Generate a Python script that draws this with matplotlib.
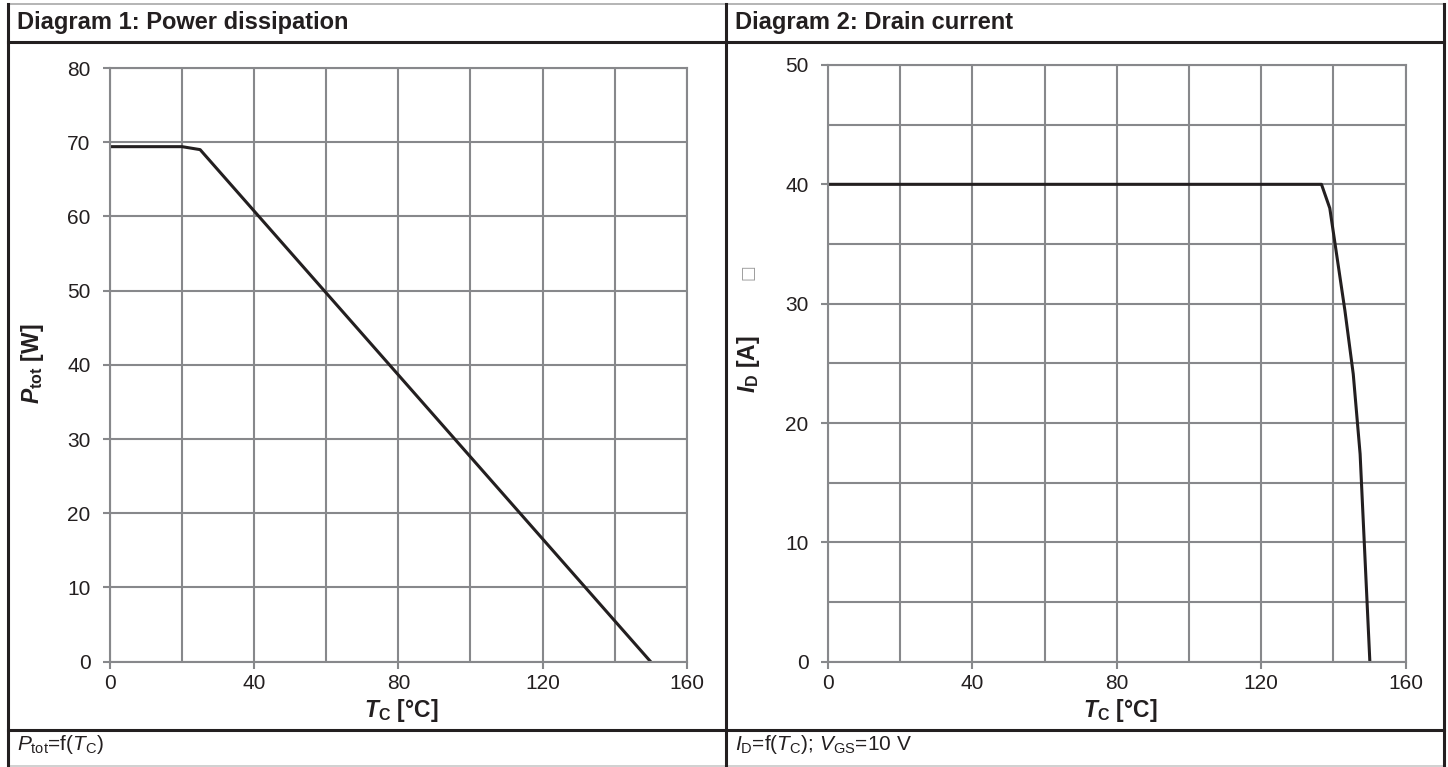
import matplotlib
matplotlib.use("Agg")
import matplotlib.pyplot as plt
from matplotlib.lines import Line2D
from matplotlib.ticker import MultipleLocator

plt.rcParams['font.family'] = ['Liberation Sans', 'DejaVu Sans']
plt.rcParams['mathtext.fontset'] = 'custom'
plt.rcParams['mathtext.rm'] = 'Liberation Sans'
plt.rcParams['mathtext.it'] = 'Liberation Sans:italic'
plt.rcParams['mathtext.bf'] = 'Liberation Sans:bold'
plt.rcParams['mathtext.bfit'] = 'Liberation Sans:italic:bold'

# diagram 1: power dissipation
tc_p = [0, 20, 25, 150]
ptot = [69.4, 69.4, 69.0, 0]

# diagram 2: drain current
tc_i = [0, 136.7, 139.0, 143.2, 145.5, 147.4, 150.1]
i_d = [40, 40, 38.0, 29.4, 24.1, 17.4, 0]

W, H = 1448, 767
dark = '#231f20'
grid_c = '#87888b'

fig = plt.figure(figsize=(W / 100, H / 100), dpi=100)


def fx(x):
    return x / W


def fy(y):
    return 1 - y / H


def hline(y, x0, x1, c, lw):
    fig.add_artist(Line2D([fx(x0), fx(x1)], [fy(y), fy(y)], color=c, lw=lw,
                          transform=fig.transFigure))


def vline(x, y0, y1, c, lw):
    fig.add_artist(Line2D([fx(x), fx(x)], [fy(y0), fy(y1)], color=c, lw=lw,
                          transform=fig.transFigure))


# table frame
hline(4, 8, 1444, '#a8a8a8', 1.2)
hline(766, 8, 1444, '#c8c8c8', 1.2)
hline(42, 8, 1444, dark, 2.2)
hline(730, 8, 1444, dark, 2.2)
vline(8, 4, 766, dark, 2.2)
vline(1444, 4, 766, dark, 2.2)
vline(726, 4, 766, dark, 2.2)

fig.text(fx(17), fy(23), 'Diagram 1: Power dissipation', fontsize=17,
         fontweight='bold', color=dark, va='center', ha='left')
fig.text(fx(735), fy(23), 'Diagram 2: Drain current', fontsize=17,
         fontweight='bold', color=dark, va='center', ha='left')

fig.text(fx(17), fy(745), r'$\mathit{P}_\mathrm{tot}$=f($\mathit{T}_\mathrm{C}$)',
         fontsize=15, color=dark, va='center', ha='left')
fig.text(fx(735), fy(745),
         r'$\mathit{I}_\mathrm{D}$=f($\mathit{T}_\mathrm{C}$); $\mathit{V}_\mathrm{GS}$=10 V',
         fontsize=15, color=dark, va='center', ha='left')


def style_axes(ax, ymax, ymajor, yminor):
    ax.set_xlim(0, 160)
    ax.set_ylim(0, ymax)
    ax.xaxis.set_major_locator(MultipleLocator(40))
    ax.xaxis.set_minor_locator(MultipleLocator(20))
    ax.yaxis.set_major_locator(MultipleLocator(ymajor))
    ax.yaxis.set_minor_locator(MultipleLocator(yminor))
    ax.grid(True, which='both', color=grid_c, lw=1.5)
    ax.set_axisbelow(True)
    for s in ax.spines.values():
        s.set_color(grid_c)
        s.set_linewidth(1.5)
    ax.tick_params(which='major', length=5, width=1.5, color=grid_c,
                   labelsize=15, labelcolor=dark)
    ax.tick_params(which='minor', length=0)
    ax.tick_params(axis='y', pad=9)
    ax.tick_params(axis='x', pad=4)


ax1 = fig.add_axes([fx(110), fy(661.7), (686.7 - 110) / W, (661.7 - 68) / H])
style_axes(ax1, 80, 10, 10)
ax1.plot(tc_p, ptot, color=dark, lw=2.2, solid_joinstyle='round')

ax2 = fig.add_axes([fx(828), fy(661.7), (1405.6 - 828) / W, (661.7 - 65) / H])
style_axes(ax2, 50, 10, 5)
ax2.plot(tc_i, i_d, color=dark, lw=2.2, solid_joinstyle='round')

# axis labels
xl = r'$\mathbfit{T}_\mathbf{C}$ [°C]'
fig.text(fx(401), fy(711), xl, fontsize=16.5, fontweight='bold', color=dark,
         ha='center', va='center')
fig.text(fx(1120), fy(711), xl, fontsize=16.5, fontweight='bold', color=dark,
         ha='center', va='center')
fig.text(fx(32), fy(364), r'$\mathbfit{P}_\mathbf{tot}$ [W]', fontsize=16.5,
         fontweight='bold', color=dark, rotation=90, ha='center', va='center')
fig.text(fx(749), fy(364), r'$\mathbfit{I}_\mathbf{D}$ [A]', fontsize=16.5,
         fontweight='bold', color=dark, rotation=90, ha='center', va='center')
fig.text(fx(748), fy(272), '□', fontsize=12, color='#9a9a9a', rotation=90,
         ha='center', va='center', family='DejaVu Sans')

fig.savefig('out.png', dpi=100)
